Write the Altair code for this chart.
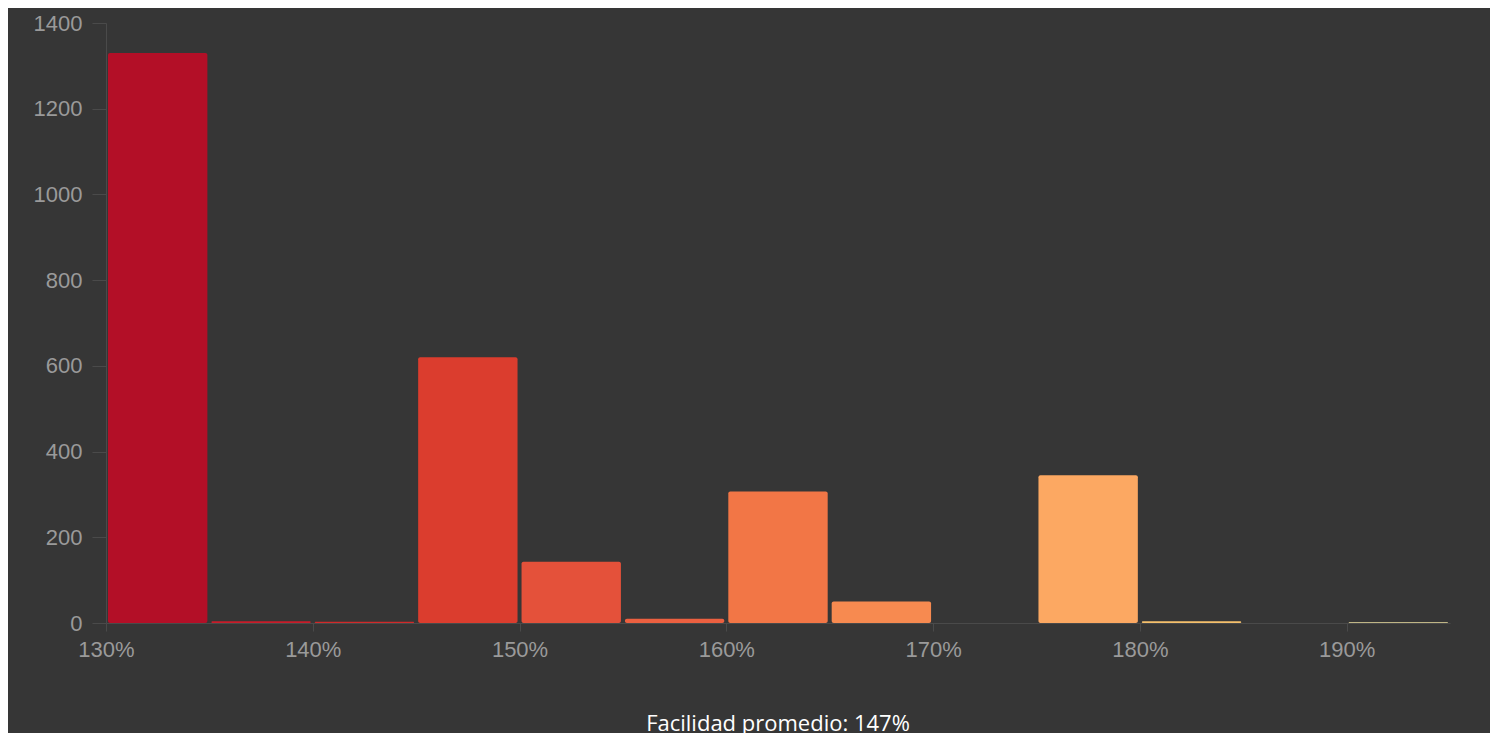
import altair as alt
import pandas as pd

bin_start = [130, 135, 140, 145, 150, 155, 160, 165, 170, 175, 180, 185, 190]
counts = [1330, 4, 3, 620, 143, 10, 307, 50, 0, 345, 4, 0, 2]
colors = ['#b30f27', '#c71d2a', '#d02a2a', '#db3d2e', '#e4513a', '#ec6040',
          '#f27646', '#f78a50', '#fa9a58', '#fca862', '#f5c06c', '#f2d080', '#ede0a0']

df = pd.DataFrame({
    'start': bin_start,
    'end': [s + 5 for s in bin_start],
    'count': counts,
    'color': colors,
})
df = df[df['count'] > 0]

chart = (
    alt.Chart(df)
    .mark_bar(cornerRadius=2, xOffset=2, x2Offset=-2)
    .encode(
        x=alt.X('start:Q', scale=alt.Scale(domain=[130, 195], nice=False),
                axis=alt.Axis(values=[130, 140, 150, 160, 170, 180, 190],
                              labelExpr="datum.value + '%'", title=None, grid=False,
                              labelFontSize=22, labelColor='#9a9a9a', labelPadding=8,
                              labelFlush=False,
                              domainColor='#4a4a4a', tickColor='#4a4a4a', tickSize=8)),
        x2='end:Q',
        y=alt.Y('count:Q', stack=None, scale=alt.Scale(domain=[0, 1400]),
                axis=alt.Axis(values=[0, 200, 400, 600, 800, 1000, 1200, 1400],
                              format='d', title=None, grid=False, labelFontSize=22,
                              labelColor='#9a9a9a', domainColor='#4a4a4a',
                              tickColor='#4a4a4a', tickSize=14, labelPadding=10)),
        y2=alt.datum(0),
        color=alt.Color('color:N', scale=None),
    )
    .properties(
        width=1344, height=600,
        autosize=alt.AutoSizeParams(type='none'),
        padding={'left': 98, 'top': 15, 'right': 40, 'bottom': 110},
        background='#363636',
        title=alt.TitleParams('Facilidad promedio: 147%', orient='bottom',
                              color='#ffffff', fontSize=22, fontWeight='normal',
                              offset=54, anchor='middle', font='Open Sans'),
    )
    .configure_view(stroke=None)
    .configure_axis(labelFont='Liberation Sans')
)

chart.save("out.html", embed_options={"renderer": "svg", "actions": False})
